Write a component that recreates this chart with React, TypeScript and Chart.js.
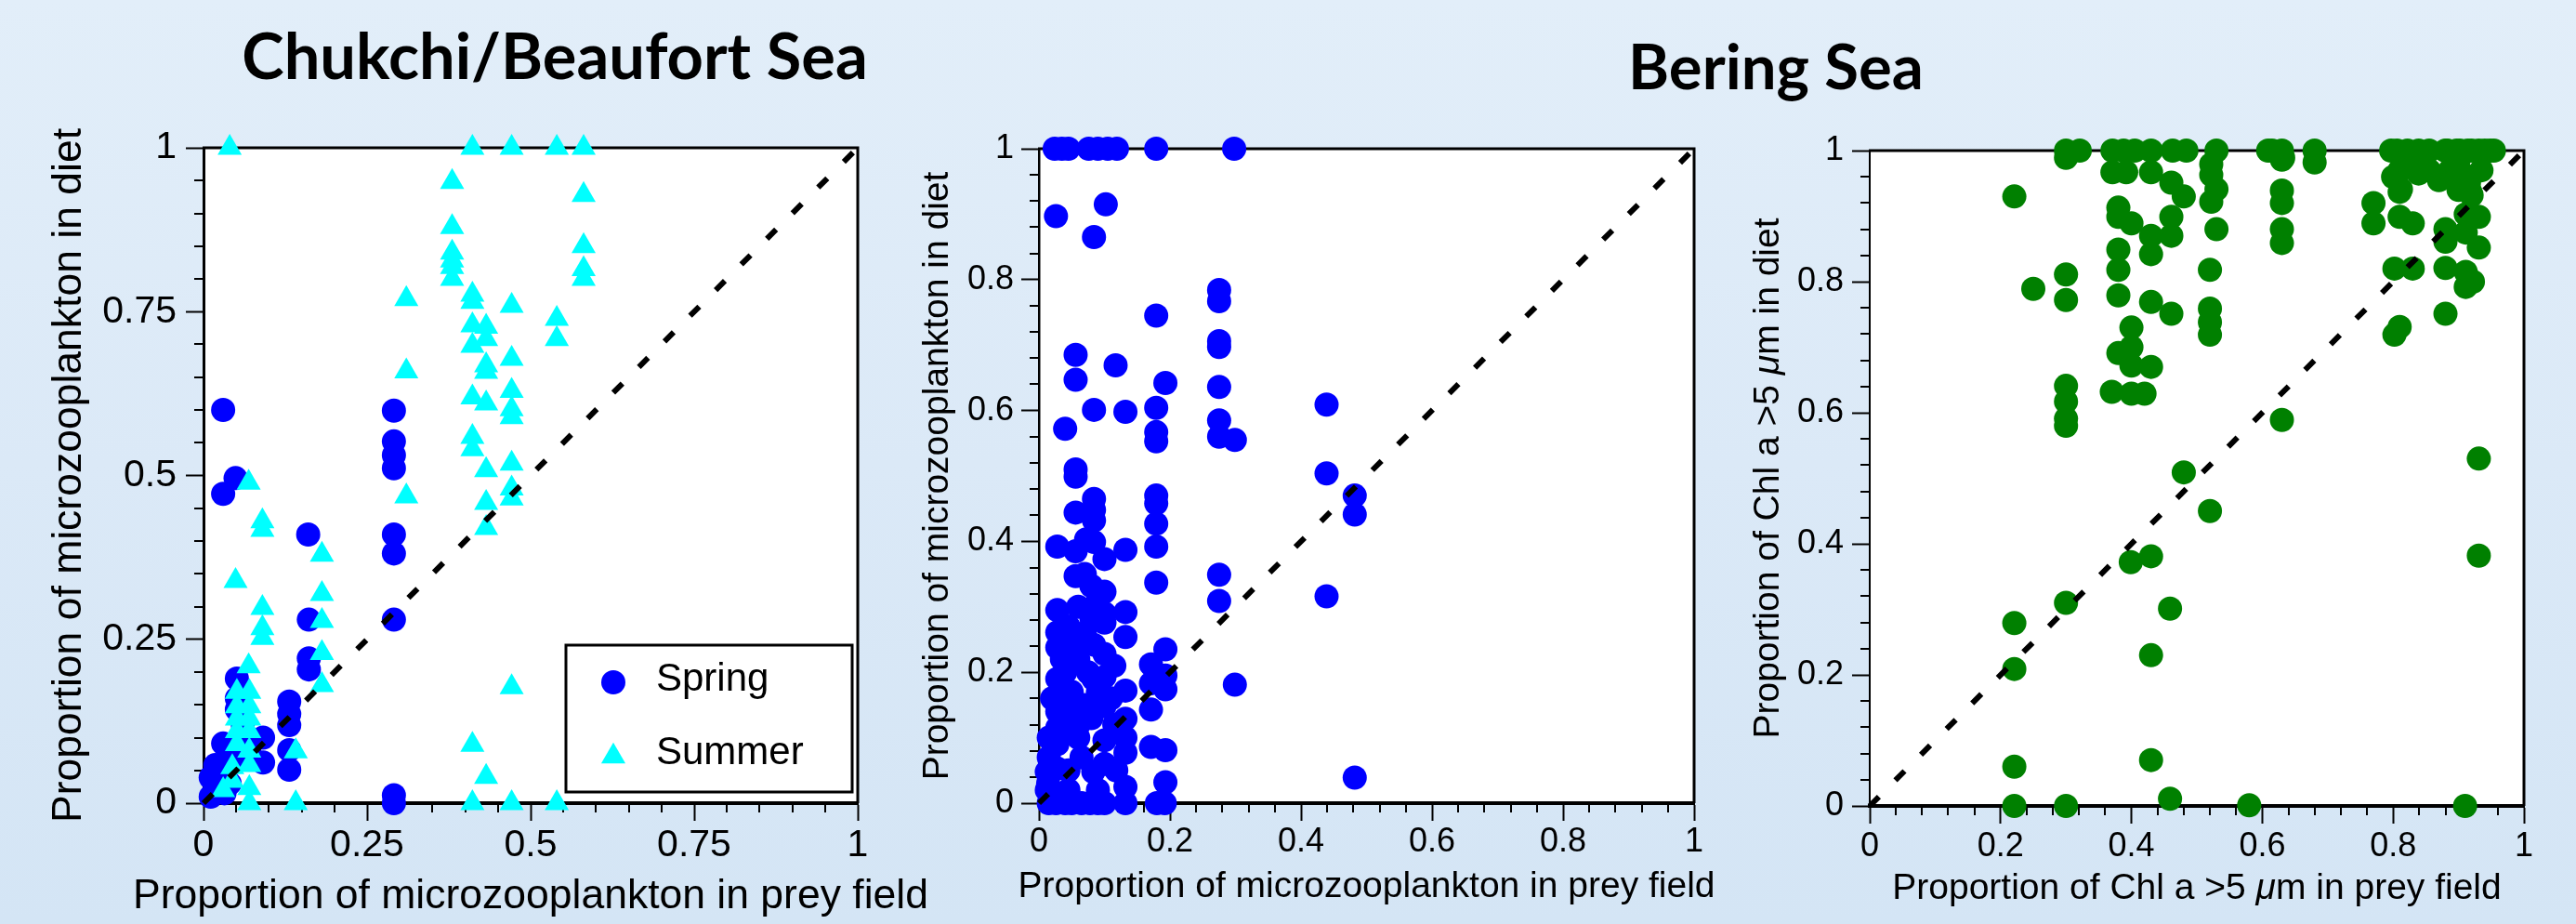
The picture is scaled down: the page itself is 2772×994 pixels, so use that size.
import React, { useEffect, useRef } from 'react';
import { Chart, registerables } from 'chart.js';

Chart.register(...registerables);

type Pt = [number, number];

const PAGE_W = 2772;
const PAGE_H = 994;
const FAMILY = "'Liberation Sans', Arial, Helvetica, sans-serif";
const TITLE_FAMILY = "Lato, 'Open Sans', sans-serif";

// ---------------- text ----------------
const chukchiTitle = 'Chukchi/Beaufort Sea';
const beringTitle = 'Bering Sea';
const microDietLabel = 'Proportion of microzooplankton in diet';
const microPreyLabel = 'Proportion of microzooplankton in prey field';
const chlDietLabel = 'Proportion of Chl a >5 μm in diet';
const chlPreyLabel = 'Proportion of Chl a >5 μm in prey field';
const springLabel = 'Spring';
const summerLabel = 'Summer';

// ---------------- data ----------------
const oneToOne: Pt[] = [[0, 0], [1, 1]];

const chukchiSpring: Pt[] = [
  [0.030, 0.600], [0.030, 0.472], [0.049, 0.496], [0.291, 0.599], [0.291, 0.552], [0.291, 0.531],
  [0.291, 0.511], [0.291, 0.410], [0.291, 0.381], [0.291, 0.280], [0.291, 0.012], [0.291, 0.000],
  [0.160, 0.410], [0.161, 0.280], [0.161, 0.221], [0.161, 0.204], [0.131, 0.155], [0.131, 0.136],
  [0.131, 0.119], [0.131, 0.081], [0.131, 0.051], [0.051, 0.190], [0.051, 0.160], [0.051, 0.143],
  [0.060, 0.120], [0.091, 0.100], [0.091, 0.062], [0.030, 0.091], [0.018, 0.058], [0.011, 0.039],
  [0.011, 0.010], [0.032, 0.015], [0.040, 0.030], [0.060, 0.100], [0.045, 0.070], [0.020, 0.025],
  [0.070, 0.080],
];

const chukchiSummer: Pt[] = [
  [0.040, 1.000], [0.411, 1.000], [0.471, 1.000], [0.540, 1.000], [0.581, 1.000],
  [0.380, 0.948], [0.581, 0.928], [0.380, 0.879], [0.380, 0.840], [0.380, 0.828], [0.380, 0.818], [0.380, 0.800],
  [0.581, 0.850], [0.581, 0.815], [0.581, 0.800],
  [0.310, 0.769], [0.411, 0.776], [0.411, 0.765], [0.471, 0.759],
  [0.411, 0.729], [0.432, 0.727], [0.432, 0.708], [0.411, 0.698],
  [0.540, 0.739], [0.540, 0.708],
  [0.471, 0.678], [0.432, 0.668], [0.432, 0.658], [0.310, 0.659],
  [0.411, 0.619], [0.432, 0.610], [0.471, 0.629], [0.471, 0.601], [0.471, 0.589],
  [0.411, 0.559], [0.411, 0.540], [0.432, 0.508], [0.471, 0.518], [0.471, 0.480], [0.471, 0.465],
  [0.310, 0.468], [0.432, 0.458], [0.432, 0.420],
  [0.069, 0.489], [0.090, 0.430], [0.090, 0.417], [0.181, 0.379], [0.049, 0.339],
  [0.181, 0.319], [0.181, 0.278], [0.181, 0.229], [0.181, 0.180],
  [0.090, 0.298], [0.090, 0.267], [0.090, 0.252],
  [0.069, 0.209], [0.471, 0.177],
  [0.051, 0.170], [0.070, 0.170], [0.051, 0.148], [0.070, 0.148], [0.051, 0.129], [0.070, 0.129],
  [0.051, 0.110], [0.070, 0.110], [0.051, 0.090], [0.070, 0.080],
  [0.141, 0.079], [0.070, 0.058], [0.044, 0.055], [0.044, 0.034], [0.070, 0.023], [0.070, 0.000], [0.141, 0.000],
  [0.411, 0.089], [0.432, 0.040], [0.411, 0.000], [0.471, 0.000], [0.540, 0.000], [0.030, 0.020],
];

const beringMicro: Pt[] = [
  [0.024, 1], [0.035, 1], [0.045, 1], [0.076, 1], [0.090, 1], [0.105, 1], [0.119, 1], [0.179, 1], [0.298, 1],
  [0.026, 0.897], [0.102, 0.915], [0.084, 0.865], [0.179, 0.745], [0.275, 0.784], [0.275, 0.767], [0.275, 0.706], [0.275, 0.697],
  [0.056, 0.685], [0.117, 0.669], [0.056, 0.647], [0.193, 0.642], [0.275, 0.636], [0.439, 0.609], [0.084, 0.601], [0.132, 0.598], [0.179, 0.604],
  [0.040, 0.572], [0.179, 0.567], [0.179, 0.553], [0.275, 0.585], [0.275, 0.560], [0.299, 0.555], [0.439, 0.504], [0.056, 0.510], [0.056, 0.499],
  [0.482, 0.470], [0.482, 0.441], [0.084, 0.465], [0.084, 0.448], [0.084, 0.432], [0.056, 0.444], [0.179, 0.470], [0.179, 0.458], [0.179, 0.427], [0.179, 0.392],
  [0.028, 0.392], [0.056, 0.385], [0.072, 0.403], [0.084, 0.399], [0.100, 0.373], [0.132, 0.387], [0.179, 0.337], [0.275, 0.349], [0.275, 0.309], [0.439, 0.316],
  [0.056, 0.347], [0.080, 0.332], [0.100, 0.323], [0.090, 0.310], [0.100, 0.290], [0.028, 0.295], [0.132, 0.292], [0.080, 0.283], [0.100, 0.276],
  [0.028, 0.261], [0.132, 0.254], [0.028, 0.238], [0.056, 0.240], [0.084, 0.242], [0.100, 0.228], [0.193, 0.235], [0.171, 0.212],
  [0.028, 0.190], [0.100, 0.193], [0.083, 0.190], [0.193, 0.195], [0.193, 0.174], [0.171, 0.183], [0.299, 0.181], [0.132, 0.172],
  [0.028, 0.155], [0.028, 0.140], [0.100, 0.148], [0.171, 0.143], [0.132, 0.129], [0.028, 0.115], [0.060, 0.119], [0.060, 0.100], [0.028, 0.090], [0.056, 0.105],
  [0.100, 0.096], [0.132, 0.100], [0.132, 0.077], [0.171, 0.086], [0.193, 0.081], [0.028, 0.053], [0.014, 0.030], [0.012, 0.048], [0.012, 0.020], [0.045, 0.050], [0.045, 0.020],
  [0.083, 0.048], [0.132, 0.025], [0.193, 0.032], [0.482, 0.039],
  [0.015, 0.000], [0.026, 0.000], [0.040, 0.000], [0.050, 0.000], [0.065, 0.000], [0.078, 0.000], [0.090, 0.000], [0.100, 0.000], [0.132, 0.000], [0.180, 0.000], [0.192, 0.000],
  [0.040, 0.200], [0.050, 0.170], [0.060, 0.220], [0.070, 0.150], [0.080, 0.130], [0.040, 0.120], [0.065, 0.070], [0.100, 0.060], [0.015, 0.070], [0.045, 0.270],
  [0.070, 0.260], [0.115, 0.210], [0.118, 0.050], [0.060, 0.300], [0.070, 0.350], [0.115, 0.120], [0.090, 0.170], [0.015, 0.100], [0.050, 0.140], [0.090, 0.020],
  [0.020, 0.160], [0.035, 0.220], [0.075, 0.200], [0.110, 0.160],
];

const beringChl: Pt[] = [
  [0.300, 1], [0.321, 1], [0.371, 1], [0.388, 1], [0.405, 1], [0.430, 1], [0.463, 1], [0.484, 1], [0.530, 1], [0.609, 1],
  [0.630, 1], [0.680, 1], [0.797, 1], [0.806, 1], [0.822, 1], [0.839, 1], [0.855, 1], [0.880, 1], [0.897, 1], [0.914, 1],
  [0.931, 1], [0.948, 1], [0.883, 1], [0.902, 1], [0.920, 1], [0.940, 1], [0.954, 1],
  [0.300, 0.989], [0.371, 0.967], [0.392, 0.967], [0.430, 0.967], [0.461, 0.951], [0.480, 0.930], [0.522, 0.979], [0.522, 0.963],
  [0.530, 0.941], [0.522, 0.922], [0.630, 0.986], [0.680, 0.982], [0.221, 0.930],
  [0.380, 0.913], [0.380, 0.899], [0.400, 0.889], [0.461, 0.899], [0.461, 0.870], [0.430, 0.870], [0.430, 0.842], [0.530, 0.880],
  [0.630, 0.939], [0.630, 0.920], [0.630, 0.880], [0.630, 0.859],
  [0.380, 0.849], [0.380, 0.818], [0.520, 0.818], [0.300, 0.811], [0.300, 0.772], [0.250, 0.789], [0.380, 0.779], [0.430, 0.769],
  [0.461, 0.751], [0.520, 0.759], [0.520, 0.738], [0.520, 0.719],
  [0.400, 0.730], [0.400, 0.700], [0.380, 0.691], [0.430, 0.670], [0.400, 0.672], [0.300, 0.641], [0.300, 0.617], [0.300, 0.591],
  [0.300, 0.580], [0.370, 0.632], [0.400, 0.629], [0.420, 0.629], [0.630, 0.589],
  [0.480, 0.509], [0.931, 0.530], [0.520, 0.450], [0.430, 0.381], [0.399, 0.372], [0.931, 0.382], [0.300, 0.310], [0.459, 0.301],
  [0.221, 0.279], [0.430, 0.230], [0.221, 0.209], [0.221, 0.060], [0.430, 0.070], [0.459, 0.011], [0.221, 0.000], [0.300, 0.000],
  [0.580, 0.001], [0.910, 0.000],
  [0.770, 0.920], [0.770, 0.889], [0.810, 0.970], [0.810, 0.937], [0.810, 0.899], [0.830, 0.889], [0.839, 0.965], [0.802, 0.820],
  [0.830, 0.820], [0.802, 0.719], [0.810, 0.731],
  [0.880, 0.880], [0.880, 0.861], [0.880, 0.821], [0.880, 0.751], [0.911, 0.903], [0.931, 0.899], [0.931, 0.852], [0.911, 0.875],
  [0.911, 0.815], [0.922, 0.800], [0.911, 0.792],
  [0.918, 0.937], [0.906, 0.965], [0.887, 0.970], [0.916, 0.951], [0.920, 0.932], [0.935, 0.970], [0.812, 0.941], [0.820, 0.985],
  [0.840, 0.975], [0.800, 0.960], [0.855, 0.970], [0.900, 0.985], [0.870, 0.955], [0.900, 0.940], [0.632, 0.989], [0.615, 1.000],
];

// ---------------- layout / style config ----------------
interface Series { label: string; data: Pt[]; style: string; radius: number; color: string; order: number; }
interface Panel {
  area: { l: number; t: number; r: number; b: number };
  yW: number;
  major: number;
  minor: number;
  tickFont: number;
  titleFont: number;
  xTickPad: number;
  yTickPad: number;
  xTitleBase: number;
  yTitleBase: number;
  leftW: number;
  xTitle: string;
  yTitle: string;
  series: Series[];
  legend?: boolean;
  titles?: { text: string; cx: number; base: number; width: number }[];
}

const panels: Panel[] = [
  {
    area: { l: 219, t: 159, r: 923, b: 864 }, yW: 200, major: 0.25, minor: 0.05,
    tickFont: 41, titleFont: 44.5, xTickPad: 2, yTickPad: 10, xTitleBase: 977, yTitleBase: 87, leftW: 3,
    xTitle: microPreyLabel, yTitle: microDietLabel,
    series: [
      { label: springLabel, data: chukchiSpring, style: 'circle', radius: 13, color: '#0000FF', order: 2 },
      { label: summerLabel, data: chukchiSummer, style: 'triangle', radius: 15, color: '#00FFFF', order: 1 },
    ],
    legend: true,
    titles: [{ text: chukchiTitle, cx: 597, base: 85, width: 673 }],
  },
  {
    area: { l: 1118, t: 160, r: 1823, b: 864 }, yW: 200, major: 0.2, minor: 0.04,
    tickFont: 36, titleFont: 39, xTickPad: 1, yTickPad: 8, xTitleBase: 965, yTitleBase: 1020, leftW: 2.5,
    xTitle: microPreyLabel, yTitle: microDietLabel,
    series: [{ label: springLabel, data: beringMicro, style: 'circle', radius: 13, color: '#0000FF', order: 1 }],
  },
  {
    area: { l: 2012, t: 162, r: 2716, b: 867 }, yW: 200, major: 0.2, minor: 0.04,
    tickFont: 36, titleFont: 39, xTickPad: 3, yTickPad: 9, xTitleBase: 967, yTitleBase: 1914, leftW: 2,
    xTitle: chlPreyLabel, yTitle: chlDietLabel,
    series: [{ label: springLabel, data: beringChl, style: 'circle', radius: 13, color: '#008000', order: 1 }],
    titles: [{ text: beringTitle, cx: 1911, base: 96, width: 318 }],
  },
];

// ---------------- plugin ----------------
const isMultiple = (v: number, step: number) => Math.abs(v / step - Math.round(v / step)) < 1e-6;

// draws text centred on (0,0) baseline, with every "μ" in italic
function drawMixed(ctx: CanvasRenderingContext2D, text: string, size: number) {
  const normal = `${size}px ${FAMILY}`;
  const italic = `italic ${size}px ${FAMILY}`;
  const parts: { s: string; f: string }[] = [];
  let buf = '';
  for (const ch of text) {
    if (ch === 'μ') {
      if (buf) parts.push({ s: buf, f: normal });
      parts.push({ s: ch, f: italic });
      buf = '';
    } else buf += ch;
  }
  if (buf) parts.push({ s: buf, f: normal });
  let total = 0;
  const widths = parts.map((p) => {
    ctx.font = p.f;
    const w = ctx.measureText(p.s).width;
    total += w;
    return w;
  });
  let x = -total / 2;
  ctx.textAlign = 'left';
  parts.forEach((p, i) => {
    ctx.font = p.f;
    ctx.fillText(p.s, x, 0);
    x += widths[i];
  });
}

const decoPlugin: any = {
  id: 'deco',
  beforeDraw(chart: any) {
    const { ctx, chartArea: a } = chart;
    ctx.save();
    ctx.fillStyle = '#ffffff';
    ctx.fillRect(a.left, a.top, a.right - a.left, a.bottom - a.top);
    ctx.restore();
  },
  beforeDatasetsDraw(chart: any, _args: any, o: any) {
    const { ctx, chartArea: a } = chart;
    ctx.save();
    ctx.strokeStyle = '#000';
    ctx.lineWidth = 3;
    ctx.beginPath();
    ctx.moveTo(a.left - 1, a.top);
    ctx.lineTo(a.right, a.top);
    ctx.lineTo(a.right, a.bottom);
    ctx.stroke();
    // minor ticks
    ctx.lineWidth = 2;
    const xs = chart.scales.x;
    const ys = chart.scales.y;
    const n = Math.round(1 / o.minor);
    ctx.beginPath();
    for (let k = 0; k <= n; k++) {
      const v = k * o.minor;
      if (isMultiple(v, o.major)) continue;
      const px = Math.round(xs.getPixelForValue(v));
      ctx.moveTo(px, a.bottom);
      ctx.lineTo(px, a.bottom + 10);
      const py = Math.round(ys.getPixelForValue(v));
      ctx.moveTo(a.left - 10, py);
      ctx.lineTo(a.left, py);
    }
    ctx.stroke();
    ctx.restore();
  },
  afterDatasetsDraw(chart: any, _args: any, o: any) {
    if (!o.legend) return;
    const { ctx, chartArea: a } = chart;
    const boxW = 308, boxH = 158;
    const bx = a.right - 6 - boxW;
    const by = a.bottom - 12 - boxH;
    ctx.save();
    ctx.fillStyle = '#fff';
    ctx.fillRect(bx, by, boxW, boxH);
    ctx.strokeStyle = '#000';
    ctx.lineWidth = 3;
    ctx.strokeRect(bx, by, boxW, boxH);
    const items = chart.data.datasets.filter((d: any) => d.type === 'scatter');
    items.forEach((d: any, i: number) => {
      const cy = by + 40 + i * 78;
      const cx = bx + 51;
      ctx.fillStyle = d.pointBackgroundColor;
      ctx.beginPath();
      if (d.pointStyle === 'triangle') {
        const r = d.pointRadius;
        const h = r * 1.5;
        ctx.moveTo(cx, cy - h / 2 - 2);
        ctx.lineTo(cx + r * 0.87, cy + h / 2 - 2);
        ctx.lineTo(cx - r * 0.87, cy + h / 2 - 2);
        ctx.closePath();
      } else {
        ctx.arc(cx, cy, d.pointRadius, 0, Math.PI * 2);
      }
      ctx.fill();
      ctx.fillStyle = '#000';
      ctx.font = `42px ${FAMILY}`;
      ctx.textAlign = 'left';
      ctx.textBaseline = 'alphabetic';
      ctx.fillText(d.label, bx + 97, by + 49 + i * 79);
    });
    ctx.restore();
  },
  afterDraw(chart: any, _args: any, o: any) {
    const { ctx, chartArea: a } = chart;
    ctx.save();
    ctx.fillStyle = '#000';
    ctx.textBaseline = 'alphabetic';
    // axis titles
    ctx.save();
    ctx.translate((a.left + a.right) / 2, o.xTitleBase);
    drawMixed(ctx, o.xTitle, o.axisFont);
    ctx.restore();
    ctx.save();
    ctx.translate(o.yTitleBase, (a.top + a.bottom) / 2);
    ctx.rotate(-Math.PI / 2);
    drawMixed(ctx, o.yTitle, o.axisFont);
    ctx.restore();
    // figure titles
    if (o.titles) {
      ctx.textAlign = 'center';
      for (const t of o.titles) {
        ctx.font = `bold 100px ${TITLE_FAMILY}`;
        const w = ctx.measureText(t.text).width;
        const size = (100 * t.width) / w;
        ctx.font = `bold ${size.toFixed(1)}px ${TITLE_FAMILY}`;
        ctx.fillText(t.text, t.cx, t.base);
      }
    }
    ctx.restore();
  },
};

const fmtTick = (v: any) => String(Number((+v).toFixed(4)));

function buildChart(canvas: HTMLCanvasElement, p: Panel) {
  const xH = PAGE_H - p.area.b;
  const toXY = (arr: Pt[]) => arr.map(([x, y]) => ({ x, y }));
  const datasets: any[] = [
    {
      type: 'line', label: '1:1', data: toXY(oneToOne), borderColor: '#000', borderWidth: 6,
      borderDash: [14, 25], pointRadius: 0, fill: false, order: 0, clip: false,
    },
    ...p.series.map((s) => ({
      type: 'scatter', label: s.label, data: toXY(s.data), pointStyle: s.style,
      pointRadius: s.radius, pointHoverRadius: s.radius, pointBackgroundColor: s.color,
      pointBorderColor: s.color, pointBorderWidth: 0, backgroundColor: s.color, borderColor: s.color,
      order: s.order, clip: false,
    })),
  ];
  const tickFont = { size: p.tickFont, family: FAMILY };
  return new Chart(canvas, {
    type: 'scatter',
    data: { datasets },
    options: {
      animation: false,
      responsive: false,
      events: [],
      layout: {
        padding: { left: p.area.l - p.yW, top: p.area.t, right: PAGE_W - p.area.r, bottom: PAGE_H - p.area.b - xH },
      },
      plugins: {
        legend: { display: false },
        tooltip: { enabled: false },
        deco: {
          major: p.major, minor: p.minor, legend: !!p.legend, titles: p.titles,
          axisFont: p.titleFont, xTitle: p.xTitle, yTitle: p.yTitle, xTitleBase: p.xTitleBase, yTitleBase: p.yTitleBase,
        },
      } as any,
      scales: {
        x: {
          type: 'linear', min: 0, max: 1,
          afterFit: (s: any) => { s.height = xH; },
          ticks: { stepSize: p.major, font: tickFont, color: '#000', padding: p.xTickPad, maxRotation: 0, autoSkip: false, callback: fmtTick },
          grid: { drawOnChartArea: false, drawTicks: true, tickLength: 19, tickWidth: 2, tickColor: '#000' },
          border: { display: true, color: '#000', width: 4 },
          title: { display: false, text: p.xTitle },
        },
        y: {
          type: 'linear', min: 0, max: 1,
          afterFit: (s: any) => { s.width = p.yW; },
          ticks: { stepSize: p.major, font: tickFont, color: '#000', padding: p.yTickPad, autoSkip: false, callback: fmtTick },
          grid: { drawOnChartArea: false, drawTicks: true, tickLength: 19, tickWidth: 2, tickColor: '#000' },
          border: { display: true, color: '#000', width: p.leftW },
          title: { display: false, text: p.yTitle },
        },
      } as any,
    },
    plugins: [decoPlugin],
  } as any);
}

export default function App() {
  const refs = [useRef<HTMLCanvasElement>(null), useRef<HTMLCanvasElement>(null), useRef<HTMLCanvasElement>(null)];

  useEffect(() => {
    const charts = panels.map((p, i) => buildChart(refs[i].current as HTMLCanvasElement, p));
    return () => charts.forEach((c) => c.destroy());
  }, []);

  return (
    <div
      style={{
        position: 'absolute', left: 0, top: 0, width: PAGE_W, height: PAGE_H, overflow: 'hidden',
        background: 'linear-gradient(to bottom, #e2eef9 0%, #dbe9f7 50%, #d4e5f5 100%)',
      }}
    >
      {panels.map((_, i) => (
        <canvas
          key={i}
          ref={refs[i]}
          width={PAGE_W}
          height={PAGE_H}
          style={{ position: 'absolute', left: 0, top: 0, width: PAGE_W, height: PAGE_H }}
        />
      ))}
    </div>
  );
}
